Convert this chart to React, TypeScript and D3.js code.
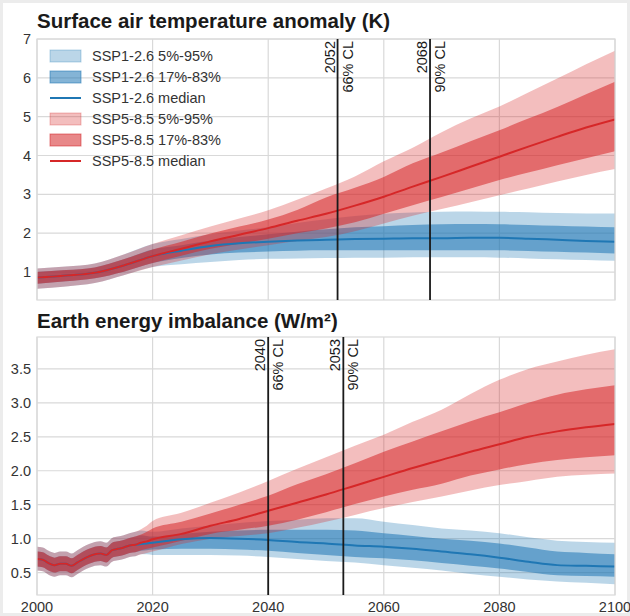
import React from "react";
import * as d3 from "d3";

// ---- surface air temperature anomaly (K), every 5 years ----
const tYears = [2000, 2005, 2010, 2015, 2020, 2025, 2030, 2035, 2040, 2045, 2050, 2055, 2060, 2065, 2070, 2075, 2080, 2085, 2090, 2095, 2100];
const tRedMed = [0.86, 0.91, 0.98, 1.17, 1.41, 1.60, 1.79, 1.96, 2.13, 2.32, 2.50, 2.71, 2.94, 3.20, 3.45, 3.71, 3.97, 4.23, 4.48, 4.72, 4.93];
const tRedHi95 = [1.09, 1.14, 1.22, 1.45, 1.72, 1.95, 2.17, 2.38, 2.59, 2.86, 3.15, 3.46, 3.85, 4.20, 4.60, 4.95, 5.26, 5.62, 5.98, 6.35, 6.70];
const tRedHi83 = [1.00, 1.05, 1.12, 1.33, 1.58, 1.78, 1.99, 2.17, 2.35, 2.60, 2.92, 3.17, 3.45, 3.80, 4.08, 4.37, 4.65, 4.95, 5.25, 5.58, 5.90];
const tRedLo17 = [0.70, 0.76, 0.84, 1.01, 1.23, 1.42, 1.60, 1.73, 1.86, 2.00, 2.12, 2.28, 2.50, 2.72, 2.93, 3.15, 3.37, 3.56, 3.75, 3.93, 4.11];
const tRedLo5 = [0.57, 0.63, 0.72, 0.92, 1.13, 1.30, 1.46, 1.58, 1.69, 1.80, 1.90, 2.05, 2.25, 2.45, 2.62, 2.80, 2.98, 3.15, 3.33, 3.50, 3.65];
const tBlueMed = [0.86, 0.91, 0.98, 1.17, 1.41, 1.55, 1.67, 1.74, 1.78, 1.81, 1.83, 1.85, 1.86, 1.87, 1.87, 1.88, 1.88, 1.86, 1.83, 1.80, 1.78];
const tBlueHi95 = [1.09, 1.14, 1.22, 1.45, 1.72, 1.85, 1.97, 2.07, 2.15, 2.26, 2.36, 2.44, 2.50, 2.53, 2.55, 2.56, 2.55, 2.54, 2.52, 2.51, 2.51];
const tBlueHi83 = [1.00, 1.05, 1.12, 1.33, 1.58, 1.69, 1.81, 1.90, 1.97, 2.04, 2.10, 2.15, 2.18, 2.21, 2.23, 2.24, 2.23, 2.21, 2.19, 2.17, 2.15];
const tBlueLo17 = [0.70, 0.76, 0.84, 1.01, 1.23, 1.36, 1.45, 1.50, 1.53, 1.55, 1.56, 1.56, 1.56, 1.56, 1.56, 1.56, 1.56, 1.54, 1.52, 1.50, 1.48];
const tBlueLo5 = [0.57, 0.63, 0.72, 0.92, 1.13, 1.20, 1.26, 1.31, 1.34, 1.35, 1.36, 1.37, 1.37, 1.38, 1.38, 1.38, 1.37, 1.35, 1.33, 1.31, 1.29];

// ---- earth energy imbalance (W/m2): yearly to 2020, then every 5 years ----
const eYears = [
  2000, 2001, 2002, 2003, 2004, 2005, 2006, 2007, 2008, 2009, 2010, 2011, 2012, 2013, 2014, 2015, 2016, 2017,
  2018, 2019, 2020, 2025, 2030, 2035, 2040, 2045, 2050, 2055, 2060, 2065, 2070, 2075, 2080, 2085, 2090, 2095, 2100,
];
// shared history 2000-2017
const eHistMed = [0.70, 0.69, 0.64, 0.61, 0.63, 0.63, 0.60, 0.65, 0.70, 0.74, 0.77, 0.78, 0.76, 0.83, 0.85, 0.87, 0.90, 0.91];
const eHistHi95 = [0.88, 0.87, 0.82, 0.79, 0.81, 0.81, 0.78, 0.83, 0.88, 0.92, 0.95, 0.96, 0.94, 1.01, 1.03, 1.05, 1.08, 1.10];
const eHistHi83 = [0.81, 0.80, 0.75, 0.72, 0.74, 0.74, 0.71, 0.76, 0.81, 0.85, 0.88, 0.89, 0.87, 0.94, 0.96, 0.98, 1.01, 1.03];
const eHistLo17 = [0.59, 0.58, 0.53, 0.50, 0.52, 0.52, 0.49, 0.54, 0.59, 0.63, 0.66, 0.67, 0.65, 0.72, 0.74, 0.76, 0.79, 0.80];
const eHistLo5 = [0.53, 0.52, 0.47, 0.44, 0.46, 0.46, 0.43, 0.48, 0.53, 0.57, 0.60, 0.61, 0.59, 0.66, 0.68, 0.70, 0.73, 0.74];
// 2018 onwards
const eRedMed = [0.94, 0.96, 0.99, 1.07, 1.19, 1.29, 1.41, 1.53, 1.65, 1.78, 1.91, 2.04, 2.16, 2.28, 2.39, 2.50, 2.58, 2.64, 2.69];
const eRedHi95 = [1.14, 1.19, 1.26, 1.38, 1.53, 1.68, 1.85, 2.03, 2.20, 2.37, 2.53, 2.72, 2.90, 3.13, 3.34, 3.50, 3.61, 3.71, 3.79];
const eRedHi83 = [1.06, 1.10, 1.15, 1.25, 1.37, 1.50, 1.63, 1.80, 1.95, 2.11, 2.28, 2.43, 2.58, 2.73, 2.86, 3.00, 3.12, 3.20, 3.26];
const eRedLo17 = [0.83, 0.85, 0.87, 0.97, 1.07, 1.13, 1.19, 1.28, 1.39, 1.51, 1.62, 1.72, 1.81, 1.93, 2.02, 2.10, 2.16, 2.20, 2.23];
const eRedLo5 = [0.77, 0.79, 0.81, 0.92, 1.00, 1.04, 1.08, 1.16, 1.25, 1.35, 1.45, 1.54, 1.62, 1.71, 1.79, 1.85, 1.91, 1.94, 1.96];
const eBlueMed = [0.92, 0.93, 0.94, 0.99, 1.01, 1.00, 0.98, 0.95, 0.93, 0.90, 0.88, 0.85, 0.81, 0.77, 0.72, 0.66, 0.61, 0.60, 0.59];
const eBlueHi95 = [1.12, 1.11, 1.10, 1.15, 1.19, 1.23, 1.26, 1.28, 1.30, 1.30, 1.25, 1.20, 1.15, 1.12, 1.08, 1.02, 0.97, 0.95, 0.94];
const eBlueHi83 = [1.05, 1.04, 1.03, 1.07, 1.10, 1.12, 1.13, 1.13, 1.13, 1.12, 1.08, 1.04, 1.00, 0.97, 0.93, 0.87, 0.81, 0.79, 0.77];
const eBlueLo17 = [0.82, 0.83, 0.84, 0.85, 0.85, 0.84, 0.82, 0.79, 0.76, 0.73, 0.71, 0.68, 0.64, 0.60, 0.56, 0.51, 0.46, 0.45, 0.44];
const eBlueLo5 = [0.77, 0.77, 0.76, 0.76, 0.76, 0.75, 0.73, 0.70, 0.67, 0.65, 0.61, 0.57, 0.53, 0.48, 0.44, 0.40, 0.37, 0.35, 0.33];

const legendLabels = [
  "SSP1-2.6 5%-95%",
  "SSP1-2.6 17%-83%",
  "SSP1-2.6 median",
  "SSP5-8.5 5%-95%",
  "SSP5-8.5 17%-83%",
  "SSP5-8.5 median",
];
const xTicks = [2000, 2020, 2040, 2060, 2080, 2100];
const tYTicks = [1, 2, 3, 4, 5, 6, 7];
const eYTicks = [0.5, 1.0, 1.5, 2.0, 2.5, 3.0, 3.5];
const tCL = [{ year: 2052, label: "66% CL" }, { year: 2068, label: "90% CL" }];
const eCL = [{ year: 2040, label: "66% CL" }, { year: 2053, label: "90% CL" }];

const BLUE = "#1f77b4";
const RED = "#d62728";
const FONT = "'Liberation Sans', Arial, Helvetica, sans-serif";
const GRID = "#d9d9d9";

const x = d3.scaleLinear().domain([2000, 2100]).range([37, 615]);

interface Scen {
  color: string;
  med: number[];
  hi95: number[];
  hi83: number[];
  lo17: number[];
  lo5: number[];
}

interface PanelProps {
  id: string;
  title: string;
  titleY: number;
  top: number;
  bottom: number;
  yDomain: [number, number];
  yTicks: number[];
  fmt: (v: number) => string;
  years: number[];
  blue: Scen;
  red: Scen;
  cls: { year: number; label: string }[];
  xLabels: boolean;
  legend: boolean;
}

const Panel: React.FC<PanelProps> = p => {
  const y = d3.scaleLinear().domain(p.yDomain).range([p.bottom, p.top]);
  const band = (lo: number[], hi: number[]) =>
    d3
      .area<number>()
      .x(d => x(d))
      .y0((_, i) => y(lo[i]))
      .y1((_, i) => y(hi[i]))
      .curve(d3.curveMonotoneX)(p.years) || "";
  const line = (v: number[]) =>
    d3
      .line<number>()
      .x(d => x(d))
      .y((_, i) => y(v[i]))
      .curve(d3.curveMonotoneX)(p.years) || "";

  const [x0, x1] = x.range();
  const bands = (s: Scen) => (
    <g>
      <path d={band(s.lo5, s.hi95)} fill={s.color} fillOpacity={0.3} />
      <path d={band(s.lo17, s.hi83)} fill={s.color} fillOpacity={0.55} />
    </g>
  );

  return (
    <g fontFamily={FONT}>
      <text x={x0} y={p.titleY} fontSize={20.5} fontWeight="bold" fill="#1a1a1a">
        {p.title}
      </text>
      <defs>
        <clipPath id={p.id}>
          <rect x={x0} y={p.top} width={x1 - x0} height={p.bottom - p.top} />
        </clipPath>
      </defs>
      {/* grid */}
      {p.yTicks.map(t => (
        <line key={"gy" + t} x1={x0} x2={x1} y1={y(t)} y2={y(t)} stroke={GRID} strokeWidth={1.2} />
      ))}
      {xTicks.map(t => (
        <line key={"gx" + t} x1={x(t)} x2={x(t)} y1={p.top} y2={p.bottom} stroke={GRID} strokeWidth={1.2} />
      ))}
      <g clipPath={`url(#${p.id})`}>
        {bands(p.blue)}
        {bands(p.red)}
        <path d={line(p.blue.med)} fill="none" stroke={BLUE} strokeWidth={2} />
        <path d={line(p.red.med)} fill="none" stroke={RED} strokeWidth={2} />
      </g>
      <rect x={x0} y={p.top} width={x1 - x0} height={p.bottom - p.top} fill="none" stroke={GRID} strokeWidth={1.2} />
      {/* y tick labels */}
      {p.yTicks.map(t => (
        <text key={"ty" + t} x={x0 - 6} y={y(t)} dy="0.35em" textAnchor="end" fontSize={14.5} fill="#333">
          {p.fmt(t)}
        </text>
      ))}
      {p.xLabels &&
        xTicks.map(t => (
          <text key={"tx" + t} x={x(t)} y={p.bottom + 17} textAnchor="middle" fontSize={14.5} fill="#333">
            {t}
          </text>
        ))}
      {/* crossing lines */}
      {p.cls.map(c => {
        const cx = x(c.year);
        return (
          <g key={"cl" + c.year}>
            <line x1={cx} x2={cx} y1={p.top} y2={p.bottom} stroke="#1a1a1a" strokeWidth={1.8} />
            <text
              transform={`translate(${cx - 3},${p.top + 2}) rotate(-90)`}
              textAnchor="end"
              fontSize={14.5}
              fill="#1a1a1a"
            >
              {c.year}
            </text>
            <text
              transform={`translate(${cx + 15},${p.top + 2}) rotate(-90)`}
              textAnchor="end"
              fontSize={14.5}
              fill="#1a1a1a"
            >
              {c.label}
            </text>
          </g>
        );
      })}
      {p.legend && (
        <g>
          {legendLabels.map((lab, i) => {
            const cy = 56 + i * 21;
            const col = i < 3 ? BLUE : RED;
            const kind = i % 3;
            return (
              <g key={lab}>
                {kind < 2 ? (
                  <rect
                    x={50}
                    y={cy - 6}
                    width={31}
                    height={12}
                    fill={col}
                    fillOpacity={kind === 0 ? 0.3 : 0.55}
                    stroke={col}
                    strokeOpacity={kind === 0 ? 0.3 : 0.55}
                  />
                ) : (
                  <line x1={50} x2={81} y1={cy} y2={cy} stroke={col} strokeWidth={2} />
                )}
                <text x={92} y={cy} dy="0.35em" fontSize={14.5} fill="#333">
                  {lab}
                </text>
              </g>
            );
          })}
        </g>
      )}
    </g>
  );
};

const App: React.FC = () => {
  const eBlue: Scen = {
    color: BLUE,
    med: eHistMed.concat(eBlueMed),
    hi95: eHistHi95.concat(eBlueHi95),
    hi83: eHistHi83.concat(eBlueHi83),
    lo17: eHistLo17.concat(eBlueLo17),
    lo5: eHistLo5.concat(eBlueLo5),
  };
  const eRed: Scen = {
    color: RED,
    med: eHistMed.concat(eRedMed),
    hi95: eHistHi95.concat(eRedHi95),
    hi83: eHistHi83.concat(eRedHi83),
    lo17: eHistLo17.concat(eRedLo17),
    lo5: eHistLo5.concat(eRedLo5),
  };

  return (
    <svg
      width={630}
      height={616}
      style={{ position: "absolute", left: 0, top: 0, background: "#fff" }}
    >
      <rect x={1.5} y={1.5} width={627} height={613} fill="#fff" stroke="#ececec" strokeWidth={3} />
      <Panel
        id="clipT"
        title="Surface air temperature anomaly (K)"
        titleY={28}
        top={39}
        bottom={300}
        yDomain={[0.28, 7]}
        yTicks={tYTicks}
        fmt={d3.format("d")}
        years={tYears}
        blue={{ color: BLUE, med: tBlueMed, hi95: tBlueHi95, hi83: tBlueHi83, lo17: tBlueLo17, lo5: tBlueLo5 }}
        red={{ color: RED, med: tRedMed, hi95: tRedHi95, hi83: tRedHi83, lo17: tRedLo17, lo5: tRedLo5 }}
        cls={tCL}
        xLabels={false}
        legend={true}
      />
      <Panel
        id="clipE"
        title="Earth energy imbalance (W/m²)"
        titleY={328}
        top={337}
        bottom={595}
        yDomain={[0.17, 3.97]}
        yTicks={eYTicks}
        fmt={d3.format(".1f")}
        years={eYears}
        blue={eBlue}
        red={eRed}
        cls={eCL}
        xLabels={true}
        legend={false}
      />
    </svg>
  );
};

export default App;
